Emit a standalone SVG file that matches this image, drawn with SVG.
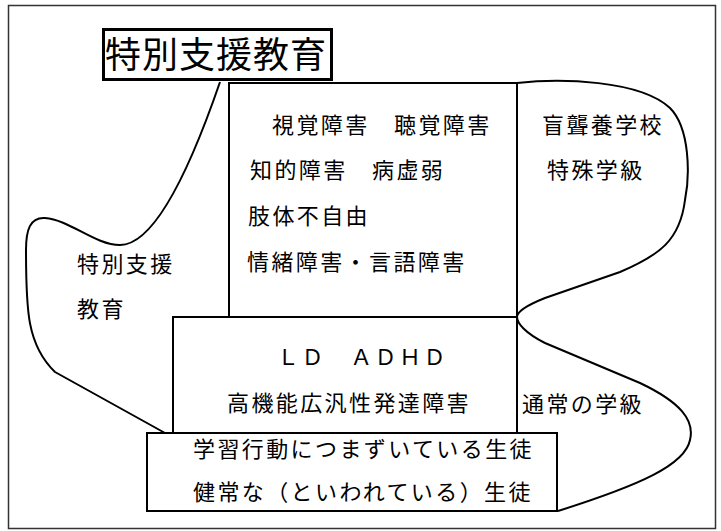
<svg xmlns="http://www.w3.org/2000/svg" width="721" height="531" viewBox="0 0 721 531">
<style>
  .t { font-family: "Noto Sans CJK JP", "Noto Sans", sans-serif; font-size: 22px; letter-spacing: 2.4px; fill: #000; dominant-baseline: central; }
  .box { fill: #fff; stroke: #000; stroke-width: 2; }
  .curve { fill: none; stroke: #000; stroke-width: 2; stroke-linejoin: round; }
</style>
<rect x="0" y="0" width="721" height="531" fill="#fff"/>
<rect id="frame" x="8.5" y="5.5" width="707" height="523" fill="none" stroke="#333" stroke-width="1.5"/>
<g id="connectors">
  <path class="curve" d="M220,82 C200,140 160,245 120,245 C95,245 70,220 45,218 C30,217 26,230 26,250 C26,310 27,345 55,372 L165,433"/>
  <path class="curve" d="M517,83 C560,78 640,80 670,108 C690,128 690,175 685,200 C680,240 660,255 620,272 L545,298 C525,306 517,312 517,317 C517,323 525,333 545,343 L640,383 C680,402 695,420 690,440 C685,465 640,485 558,511"/>
</g>
<g id="disabilities">
  <rect class="box" x="229" y="83" width="288" height="234"/>
  <text class="t" x="272" y="123">視覚障害　聴覚障害</text>
  <text class="t" x="250" y="168">知的障害　病虚弱</text>
  <text class="t" x="248" y="214">肢体不自由</text>
  <text class="t" x="247" y="260">情緒障害・言語障害</text>
</g>
<g id="ld">
  <rect class="box" x="173" y="317" width="344" height="116"/>
  <text class="t" x="277" y="355">ＬＤ　ＡＤＨＤ</text>
  <text class="t" x="227" y="401">高機能広汎性発達障害</text>
</g>
<g id="students">
  <rect class="box" x="147" y="433" width="410" height="78"/>
  <text class="t" x="193" y="447">学習行動につまずいている生徒</text>
  <text class="t" x="193" y="490">健常な（といわれている）生徒</text>
</g>
<g id="title">
  <rect x="103.5" y="29.5" width="228" height="50" fill="#fff" stroke="#000" stroke-width="3"/>
  <text x="105" y="52" style="font-family: 'Noto Sans CJK JP', sans-serif; font-size: 36px; letter-spacing: 1px; dominant-baseline: central;">特別支援教育</text>
</g>
<g id="school">
  <text class="t" x="542" y="123">盲聾養学校</text>
  <text class="t" x="547" y="168">特殊学級</text>
</g>
<g id="support">
  <text class="t" x="77" y="262">特別支援</text>
  <text class="t" x="77" y="307">教育</text>
</g>
<g id="regular">
  <text class="t" x="522" y="402">通常の学級</text>
</g>
</svg>
